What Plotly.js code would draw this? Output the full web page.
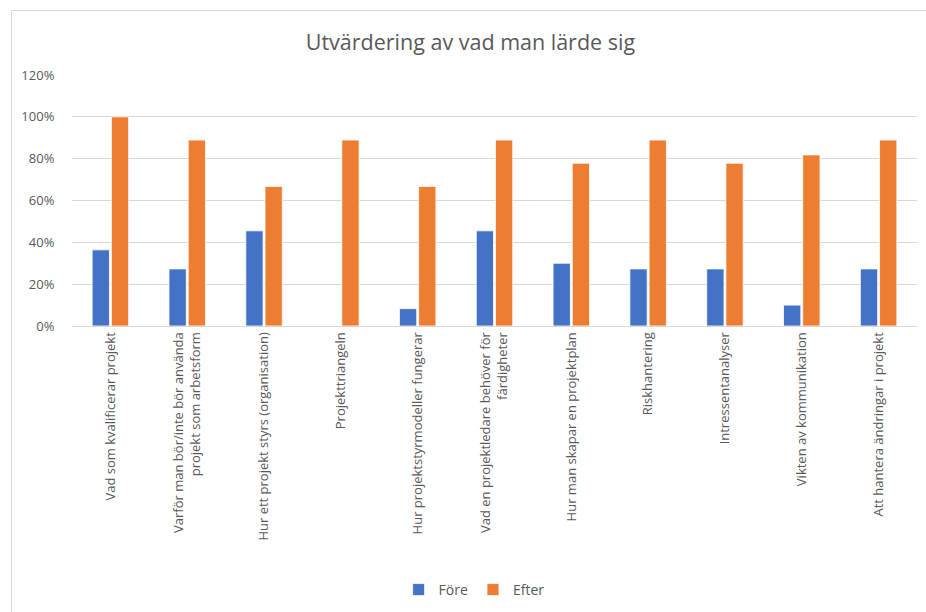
<!DOCTYPE html>
<html>
<head>
<meta charset="utf-8">
<script src="https://cdn.plot.ly/plotly-3.0.1.min.js"></script>
<style>
  html, body { margin: 0; padding: 0; overflow: hidden; background: #fff; }
  #chart { position: absolute; left: 0; top: 0; width: 926px; height: 612px; }
  #frame { position: absolute; left: 11px; top: 10px; width: 940px; height: 640px;
           border-left: 1px solid #d9d9d9; border-top: 1px solid #d9d9d9; pointer-events: none; }
</style>
</head>
<body>
<div id="chart"></div>
<div id="frame"></div>
<script>
const categories = [
  "Vad som kvalificerar projekt",
  "Varför man bör/inte bör använda<br>projekt som arbetsform",
  "Hur ett projekt styrs (organisation)",
  "Projekttriangeln",
  "Hur projektstyrmodeller fungerar",
  "Vad en projektledare behöver för<br>färdigheter",
  "Hur man skapar en projektplan",
  "Riskhantering",
  "Intressentanalyser",
  "Vikten av kommunikation",
  "Att hantera ändringar i projekt"
];
const fore  = [0.364, 0.273, 0.455, 0, 0.083, 0.455, 0.30, 0.273, 0.273, 0.10, 0.273];
const efter = [1.00, 0.889, 0.667, 0.889, 0.667, 0.889, 0.778, 0.889, 0.778, 0.818, 0.889];
const seriesNames = ["Före", "Efter"];
const yTicks = [0, 0.2, 0.4, 0.6, 0.8, 1.0, 1.2];

const txt = "#595959";
const data = [
  { type: "bar", name: seriesNames[0], x: categories, y: fore,
    marker: { color: "#4472C4", line: { color: "#ffffff", width: 0.8 } }, hoverinfo: "y" },
  { type: "bar", name: seriesNames[1], x: categories, y: efter,
    marker: { color: "#ED7D31", line: { color: "#ffffff", width: 0.8 } }, hoverinfo: "y" }
];
const layout = {
  width: 926, height: 612,
  margin: { l: 72, r: 9, t: 75, b: 286, pad: 0 },
  paper_bgcolor: "#ffffff", plot_bgcolor: "#ffffff",
  font: { family: "Open Sans, sans-serif", color: txt, size: 13 },
  title: { text: "Utvärdering av vad man lärde sig", xref: "container", x: 0.508, xanchor: "center",
           yref: "container", y: 0.931, yanchor: "middle",
           font: { family: "Open Sans, sans-serif", size: 21.5, color: txt } },
  barmode: "group", bargap: 0.5, bargroupgap: 0.1,
  xaxis: { type: "category", tickangle: -90, ticks: "", showgrid: false,
           showline: true, linecolor: "#d9d9d9", linewidth: 1,
           tickfont: { size: 13, color: txt }, automargin: false },
  yaxis: { range: [0, 1.2], tickvals: yTicks, tickformat: ".0%", showgrid: true,
           gridcolor: "#d9d9d9", gridwidth: 1, zeroline: false, showline: false,
           ticks: "outside", ticklen: 14, tickcolor: "rgba(0,0,0,0)",
           tickfont: { size: 13, color: txt }, automargin: false },
  showlegend: true,
  legend: { orientation: "h", xref: "container", x: 0.512, xanchor: "center",
            yref: "container", y: 0.036, yanchor: "middle",
            font: { size: 14, color: txt }, itemwidth: 30, traceorder: "normal" }
};
Plotly.newPlot("chart", data, layout, { displayModeBar: false, staticPlot: true });
</script>
</body>
</html>
